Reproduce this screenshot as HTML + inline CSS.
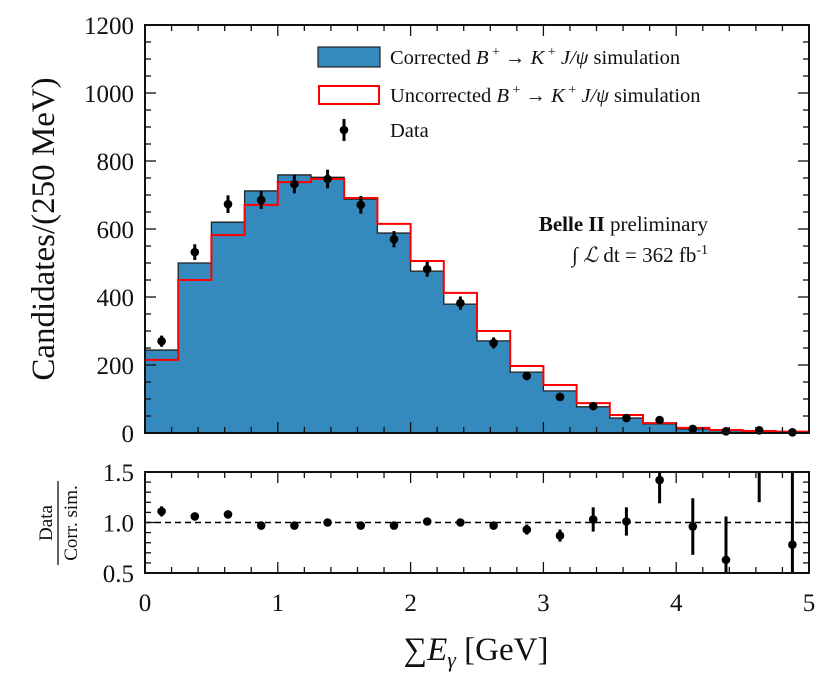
<!DOCTYPE html>
<html><head><meta charset="utf-8"><style>
body{margin:0;background:#fff;}
svg text{font-family:"Liberation Serif","DejaVu Serif",serif;fill:#111;}
</style></head><body>
<svg id="c" width="831" height="683" viewBox="0 0 831 683" xmlns="http://www.w3.org/2000/svg"></svg>
<script>
const binEdges=[0,0.25,0.5,0.75,1,1.25,1.5,1.75,2,2.25,2.5,2.75,3,3.25,3.5,3.75,4,4.25,4.5,4.75,5];
const corrected=[244,500,620,712,759,752,688,588,476,379,271,179,124,77,44,27,12,7,4,3];
const uncorrected=[215,450,582,671,738,747,691,615,506,412,300,197,141,88,53,29,15,9,6,4];
const dataVals=[270,532,673,685,732,747,671,570,482,382,265,168,106,79,44,38,12,5,8,2];
const ratioVals=[1.11,1.06,1.08,0.97,0.97,1.00,0.97,0.97,1.01,1.00,0.97,0.93,0.87,1.03,1.01,1.42,0.96,0.63,1.6,0.78];
const ratioErr=[0.05,0.03,0.03,0.02,0.02,0.02,0.03,0.03,0.03,0.03,0.04,0.05,0.06,0.12,0.14,0.23,0.28,0.43,0.4,0.75];
const xTicks=[0,1,2,3,4,5];
const yTicks=[0,200,400,600,800,1000,1200];
const rTicks=[0.5,1.0,1.5];

const svg=document.getElementById('c');
const NS='http://www.w3.org/2000/svg';
const L=145,R=809,T=25,B=433,RT=472,RB=573;
const X=v=>L+(R-L)*v/5;
const Y=v=>B-(B-T)*v/1200;
const RY=v=>RB-(RB-RT)*(v-0.5)/1.0;
function mk(tag,attrs,parent){const e=document.createElementNS(NS,tag);for(const k in attrs)e.setAttribute(k,attrs[k]);(parent||svg).appendChild(e);return e;}

const defs=mk('defs',{});
const cp=mk('clipPath',{id:'rc'},defs);mk('rect',{x:L,y:RT,width:R-L,height:RB-RT},cp);
const cp2=mk('clipPath',{id:'mc'},defs);mk('rect',{x:L,y:T,width:R-L,height:B-T},cp2);

let d='M'+X(0)+','+Y(0);
for(let i=0;i<corrected.length;i++){d+=' L'+X(binEdges[i])+','+Y(corrected[i])+' L'+X(binEdges[i+1])+','+Y(corrected[i]);}
d+=' L'+X(5)+','+Y(0)+' Z';
let h=mk('path',{d:d,fill:'#348abd',stroke:'#222','stroke-width':1.3});


let d2='M'+X(0)+','+Y(uncorrected[0]);
for(let i=0;i<uncorrected.length;i++){d2+=' L'+X(binEdges[i])+','+Y(uncorrected[i])+' L'+X(binEdges[i+1])+','+Y(uncorrected[i]);}
let u=mk('path',{d:d2,fill:'none',stroke:'#ff0000','stroke-width':2,'clip-path':'url(#mc)'});


for(let i=0;i<dataVals.length;i++){
 const cx=X((binEdges[i]+binEdges[i+1])/2),v=dataVals[i],e=Math.sqrt(v);
 const g=mk('g',{});
 
 
 mk('line',{x1:cx,x2:cx,y1:Y(v+e),y2:Y(Math.max(0,v-e)),stroke:'#000','stroke-width':3},g);
 mk('circle',{cx:cx,cy:Y(v),r:4.3,fill:'#000'},g);
}
mk('line',{x1:L,x2:R,y1:RY(1),y2:RY(1),stroke:'#000','stroke-width':1.5,'stroke-dasharray':'6,4'});
for(let i=0;i<ratioVals.length;i++){
 const cx=X((binEdges[i]+binEdges[i+1])/2),v=ratioVals[i],e=ratioErr[i];
 const g=mk('g',{'clip-path':'url(#rc)'});
 
 
 mk('line',{x1:cx,x2:cx,y1:RY(v+e),y2:RY(v-e),stroke:'#000','stroke-width':3},g);
 mk('circle',{cx:cx,cy:RY(v),r:4.3,fill:'#000'},g);
}
mk('rect',{x:L,y:T,width:R-L,height:B-T,fill:'none',stroke:'#111','stroke-width':2,});
mk('rect',{x:L,y:RT,width:R-L,height:RB-RT,fill:'none',stroke:'#111','stroke-width':2,});
for(let v=0;v<=5.001;v+=0.2){
 const major=Math.abs(v-Math.round(v))<1e-6,len=major?11:6,x=X(v);
 for(const [top,bot] of [[T,B],[RT,RB]]){
  mk('line',{x1:x,x2:x,y1:bot,y2:bot-len,stroke:'#111','stroke-width':1.3});
  mk('line',{x1:x,x2:x,y1:top,y2:top+len,stroke:'#111','stroke-width':1.3});
 }
}
for(const t of xTicks){const e=mk('text',{x:X(t),y:611,'font-size':25,'text-anchor':'middle'});e.textContent=t;
 }
for(let v=0;v<=1200;v+=50){
 const major=v%200===0,len=major?11:6,y=Y(v);
 mk('line',{x1:L,x2:L+len,y1:y,y2:y,stroke:'#111','stroke-width':1.3});
 mk('line',{x1:R,x2:R-len,y1:y,y2:y,stroke:'#111','stroke-width':1.3});
}
for(const t of yTicks){const e=mk('text',{x:134,y:Y(t)+9,'font-size':25,'text-anchor':'end'});e.textContent=t;
 }
for(let v=0.5;v<=1.501;v+=0.1){
 const major=Math.abs(v*2-Math.round(v*2))<1e-6,len=major?11:6,y=RY(v);
 mk('line',{x1:L,x2:L+len,y1:y,y2:y,stroke:'#111','stroke-width':1.3});
 mk('line',{x1:R,x2:R-len,y1:y,y2:y,stroke:'#111','stroke-width':1.3});
}
for(const t of rTicks){const e=mk('text',{x:134,y:RY(t)+9,'font-size':25,'text-anchor':'end'});e.textContent=t.toFixed(1);
 }
</script>
<svg style="position:absolute;left:0;top:0" width="831" height="683" xmlns="http://www.w3.org/2000/svg">
<text x="54" y="229" font-size="33" text-anchor="middle" transform="rotate(-90 54 229)" style="font-family:'Liberation Serif',serif">Candidates/(250 MeV)</text>
<g transform="rotate(-90 60 523)" style="font-family:'Liberation Serif',serif">
<text x="60" y="515" font-size="19" text-anchor="middle">Data</text>
<line x1="18" x2="102" y1="521" y2="521" stroke="#111" stroke-width="1.3"/>
<text x="60" y="540" font-size="19" text-anchor="middle">Corr. sim.</text>
</g>
<text x="476" y="660" font-size="33" text-anchor="middle" style="font-family:'Liberation Serif',serif">∑<tspan font-style="italic">E</tspan><tspan font-style="italic" font-size="22" dy="7">γ</tspan><tspan dy="-7"> [GeV]</tspan></text>
<g style="font-family:'Liberation Serif',serif" font-size="20.5">
<rect x="318" y="47" width="62" height="20" fill="#348abd" stroke="#222" stroke-width="1.2"/>
<text x="390" y="64">Corrected <tspan font-style="italic">B</tspan><tspan font-size="14" dy="-8"> +</tspan><tspan dy="8"> → </tspan><tspan font-style="italic">K</tspan><tspan font-size="14" dy="-8"> +</tspan><tspan dy="8" font-style="italic"> J/ψ</tspan> simulation</text>
<rect x="319" y="86" width="60" height="18" fill="none" stroke="#ff0000" stroke-width="2"/>
<text x="390" y="102">Uncorrected <tspan font-style="italic">B</tspan><tspan font-size="14" dy="-8"> +</tspan><tspan dy="8"> → </tspan><tspan font-style="italic">K</tspan><tspan font-size="14" dy="-8"> +</tspan><tspan dy="8" font-style="italic"> J/ψ</tspan> simulation</text>
<line x1="344" x2="344" y1="119" y2="141" stroke="#000" stroke-width="3"/><circle cx="344" cy="130" r="4.3" fill="#000"/>
<text x="390" y="137">Data</text>
</g>
<text x="708" y="231" font-size="21" text-anchor="end" style="font-family:'Liberation Serif',serif"><tspan font-weight="bold">Belle II</tspan> preliminary</text>
<text x="708" y="262" font-size="21" text-anchor="end" style="font-family:'Liberation Serif',serif"><tspan font-style="italic">∫ ℒ</tspan> dt = 362 fb<tspan font-size="14" dy="-8">-1</tspan></text>
</svg>
</body></html>
